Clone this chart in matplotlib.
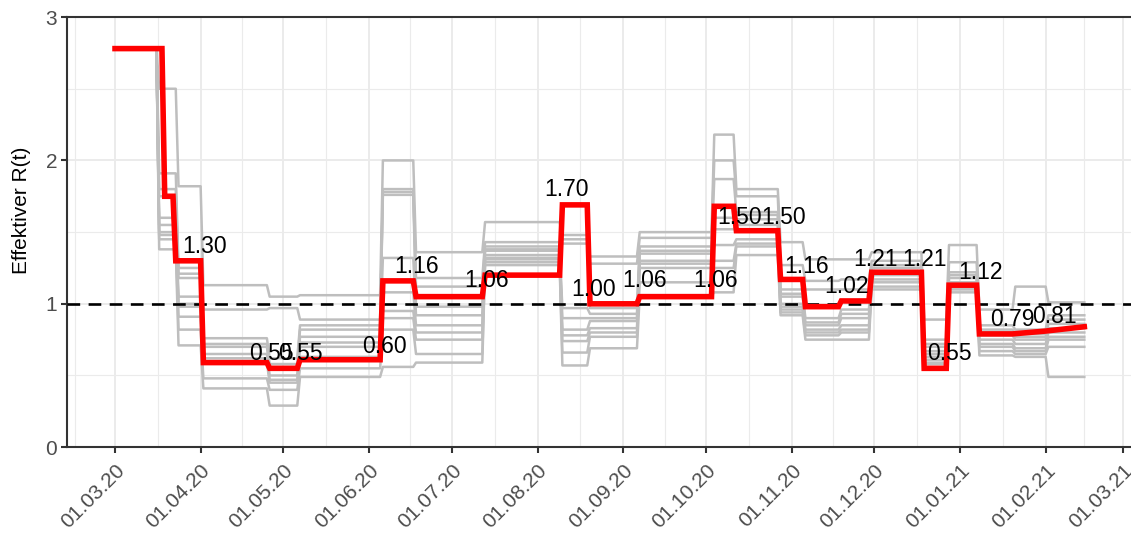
import numpy as np
import matplotlib
matplotlib.use('Agg')
import matplotlib.pyplot as plt
import matplotlib.dates as mdates
from matplotlib.ticker import FixedLocator

plt.rcParams['font.family'] = ['Liberation Sans', 'DejaVu Sans']

start = np.datetime64('2020-03-01')

# red line: day offsets (from 01.03.20) where a new level starts, and the level
red_days = [0, 17, 21, 31, 55, 66, 96, 108, 133, 161, 171, 189, 216, 224, 240, 249, 262, 273, 292, 301, 312]
red_vals = [2.78, 1.75, 1.30, 0.59, 0.55, 0.61, 1.16, 1.05, 1.20, 1.69, 1.00, 1.05, 1.68, 1.51, 1.17, 0.98, 1.02, 1.22, 0.55, 1.13, 0.79]
red_tail_days = [325, 337, 351]
red_tail_vals = [0.79, 0.81, 0.84]

# grey scenario lines: same kind of steps, 10 levels per piece
grey_days = [0, 15, 22, 31, 55, 66, 96, 108, 133, 161, 171, 189, 216, 224, 240, 249, 262, 273, 292, 301, 312, 325, 337]
grey_end = 351
grey_levels = [
    [2.78, 2.78, 2.78, 2.78, 2.78, 2.78, 2.78, 2.78, 2.78, 2.78],
    [2.50, 1.91, 1.80, 1.75, 1.60, 1.55, 1.50, 1.48, 1.45, 1.38],
    [1.82, 1.25, 1.21, 1.18, 1.05, 1.00, 0.98, 0.91, 0.82, 0.71],
    [1.13, 0.96, 0.76, 0.72, 0.70, 0.65, 0.62, 0.59, 0.48, 0.41],
    [1.05, 0.97, 0.62, 0.58, 0.55, 0.50, 0.47, 0.45, 0.40, 0.29],
    [1.06, 0.89, 0.85, 0.82, 0.77, 0.73, 0.70, 0.63, 0.55, 0.49],
    [2.00, 1.80, 1.78, 1.76, 1.32, 1.08, 0.95, 0.90, 0.82, 0.56],
    [1.36, 1.18, 1.12, 0.98, 0.92, 0.85, 0.80, 0.75, 0.65, 0.59],
    [1.57, 1.43, 1.40, 1.38, 1.37, 1.34, 1.32, 1.31, 1.29, 1.27],
    [1.48, 1.45, 1.42, 0.97, 0.90, 0.82, 0.78, 0.74, 0.66, 0.57],
    [1.33, 1.28, 0.97, 0.93, 0.90, 0.88, 0.83, 0.80, 0.77, 0.69],
    [1.50, 1.46, 1.40, 1.37, 1.35, 1.30, 1.28, 1.25, 1.15, 1.06],
    [2.18, 2.00, 1.87, 1.67, 1.60, 1.52, 1.41, 1.30, 1.25, 1.08],
    [1.80, 1.75, 1.64, 1.62, 1.59, 1.55, 1.45, 1.42, 1.40, 1.34],
    [1.43, 1.27, 1.10, 1.07, 1.05, 1.00, 0.98, 0.96, 0.94, 0.92],
    [1.31, 1.16, 1.10, 0.90, 0.87, 0.85, 0.82, 0.80, 0.78, 0.75],
    [1.31, 1.17, 1.10, 0.96, 0.93, 0.90, 0.85, 0.82, 0.80, 0.75],
    [1.36, 1.30, 1.27, 1.25, 1.22, 1.20, 1.17, 1.15, 1.12, 1.10],
    [0.89, 0.75, 0.72, 0.70, 0.67, 0.65, 0.63, 0.61, 0.59, 0.58],
    [1.41, 1.29, 1.22, 1.20, 1.18, 1.15, 1.12, 1.11, 1.10, 1.08],
    [0.96, 0.85, 0.82, 0.80, 0.78, 0.75, 0.72, 0.70, 0.67, 0.64],
    [1.12, 0.82, 0.79, 0.77, 0.75, 0.72, 0.69, 0.67, 0.65, 0.63],
    [1.01, 0.92, 0.89, 0.86, 0.83, 0.80, 0.77, 0.75, 0.70, 0.49],
]

# value labels (day offset, printed value)
label_days = [32.6, 56.8, 67.3, 97.4, 109.3, 134.7, 163.6, 173.4, 191.9, 217.6,
              226.3, 241.9, 250.5, 264.7, 275.5, 293.3, 302.0, 313.5, 325.1, 340.0]
label_vals = [1.30, 0.55, 0.55, 0.60, 1.16, 1.06, 1.70, 1.00, 1.06, 1.06,
              1.50, 1.50, 1.16, 1.02, 1.21, 1.21, 0.55, 1.12, 0.79, 0.81]


def step_path(days, vals, end):
    xs, ys = [], []
    for i, (d, v) in enumerate(zip(days, vals)):
        d0 = d + 1 if i > 0 else d
        d1 = days[i + 1] if i + 1 < len(days) else end
        xs += [d0, d1]
        ys += [v, v]
    return xs, ys


def to_dates(days):
    return start + np.round(np.array(days) * 24).astype('timedelta64[h]')


fig = plt.figure(figsize=(11.31, 5.33), dpi=100)
ax = fig.add_axes([0.0592, 0.161, 0.9408, 0.807])

for j in range(len(grey_levels[0])):
    gx, gy = step_path(grey_days, [lv[j] for lv in grey_levels], grey_end)
    ax.plot(to_dates(gx), gy, color='#BEBEBE', lw=1.8, zorder=2)

ax.axhline(1, color='black', lw=1.9, ls=(0, (4.8, 3.2)), zorder=3)

rx, ry = step_path(red_days, red_vals, red_tail_days[0])
rx += red_tail_days[1:]
ry += red_tail_vals[1:]
ax.plot(to_dates(rx), ry, color='red', lw=4.0, zorder=4, solid_joinstyle='miter')

for d, v in zip(label_days, label_vals):
    ax.text(to_dates([d])[0], v + 0.1, f'{v:.2f}', ha='center', va='center',
            fontsize=16.5, color='black', zorder=5)

ax.set_ylim(0, 3)
ax.set_yticks([0, 1, 2, 3])
ax.yaxis.set_minor_locator(FixedLocator([0.5, 1.5, 2.5]))
x0 = mdates.date2num(start)
ax.set_xlim(x0 - 17.4, x0 + 367.9)
ax.xaxis.set_major_locator(mdates.MonthLocator())
ax.xaxis.set_major_formatter(mdates.DateFormatter('%d.%m.%y'))
majors = [mdates.date2num(np.datetime64(m)) for m in
          ['2020-02-01', '2020-03-01', '2020-04-01', '2020-05-01', '2020-06-01', '2020-07-01',
           '2020-08-01', '2020-09-01', '2020-10-01', '2020-11-01', '2020-12-01',
           '2021-01-01', '2021-02-01', '2021-03-01', '2021-04-01']]
ax.xaxis.set_minor_locator(FixedLocator([(a + b) / 2 for a, b in zip(majors[:-1], majors[1:])]))

ax.grid(which='major', color='#EBEBEB', lw=1.4, zorder=0)
ax.grid(which='minor', color='#EBEBEB', lw=0.8, zorder=0)
ax.set_axisbelow(True)

for s in ['left', 'bottom', 'top']:
    ax.spines[s].set_color('#333333')
    ax.spines[s].set_linewidth(1.5)
ax.spines['right'].set_visible(False)
ax.tick_params(which='major', length=4, width=1.5, color='#333333', labelcolor='#4D4D4D',
               labelsize=15, pad=3)
ax.tick_params(axis='x', which='major', pad=6)
ax.tick_params(which='minor', length=0)
for lab in ax.get_xticklabels():
    lab.set_rotation(45)
    lab.set_ha('right')
    lab.set_va('top')
    lab.set_rotation_mode('anchor')

ax.set_ylabel('Effektiver R(t)', fontsize=15, color='black')
ax.yaxis.set_label_coords(-0.034, 0.55)

fig.savefig('out.png', dpi=100)
